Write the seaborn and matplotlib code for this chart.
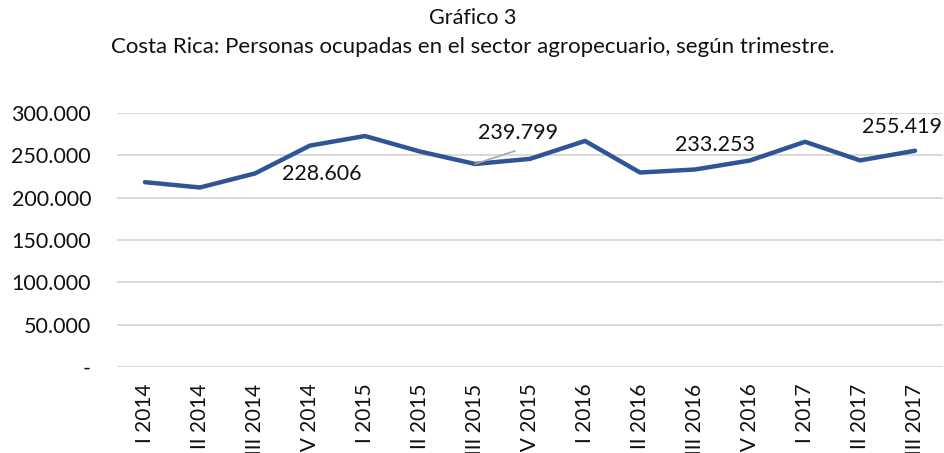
import pandas as pd
import matplotlib.pyplot as plt
import matplotlib.ticker as mtick
import seaborn as sns

# ── Data ────────────────────────────────────────────────────────────────────
quarters = ["I 2014", "II 2014", "III 2014", "IV 2014",
            "I 2015", "II 2015", "III 2015", "IV 2015",
            "I 2016", "II 2016", "III 2016", "IV 2016",
            "I 2017", "II 2017", "III 2017"]
ocupados = [218300, 212000, 228606, 261500,
            272800, 254500, 239799, 245800,
            267000, 229700, 233253, 243900,
            266000, 244000, 255419]
# labelled points: index -> (dx, dy) offset in pixels
labelled = {2: (67, -1), 6: (43, 31), 10: (20, 25), 14: (-13, 24)}

FONT = "Lato"
BLUE = "#2F5597"

sns.set_theme(style="white")
plt.rcParams["font.family"] = [FONT, "DejaVu Sans"]

df = pd.DataFrame({"trimestre": quarters, "ocupados": ocupados})

fig = plt.figure(figsize=(9.45, 4.53), dpi=100)
ax = fig.add_axes([0.1243, 0.1898, 0.8731, 0.5608])

sns.lineplot(data=df, x="trimestre", y="ocupados", ax=ax,
             color=BLUE, lw=3.2, sort=False)

ax.set_xlim(-0.5, len(quarters) - 0.5)
ax.set_ylim(0, 300000)
ax.set_yticks(range(0, 300001, 50000))
ax.yaxis.set_major_formatter(mtick.FuncFormatter(
    lambda v, _: "-" if v == 0 else f"{v:,.0f}".replace(",", ".")))
ax.grid(axis="y", color="#D9D9D9", lw=1.4)
ax.set_axisbelow(True)
for s in ax.spines.values():
    s.set_visible(False)
ax.set_xlabel("")
ax.set_ylabel("")
ax.tick_params(axis="y", labelsize=15.5, pad=19, length=0, labelcolor="#111111")
ax.tick_params(axis="x", labelsize=15, pad=12, length=0, labelcolor="#111111",
               rotation=90)

# data labels
for i, (dx, dy) in labelled.items():
    v = ocupados[i]
    ax.annotate(f"{v:,.0f}".replace(",", "."), xy=(i, v),
                xytext=(dx, dy), textcoords="offset pixels",
                ha="center", va="center", fontsize=15.5, color="#111111")
# leader line for III 2015
ax.annotate("", xy=(6, ocupados[6]), xytext=(40, 13), textcoords="offset pixels",
            arrowprops=dict(arrowstyle="-", color="#A6A6A6", lw=1.2,
                            shrinkA=0, shrinkB=0))

fig.text(0.5, 1 - 18 / 453, "Gráfico 3", ha="center", va="center",
         fontsize=15.5, color="#111111")
fig.text(0.5, 1 - 47 / 453,
         "Costa Rica: Personas ocupadas en el sector agropecuario, según trimestre.",
         ha="center", va="center", fontsize=16, color="#111111")

fig.savefig("out.png", dpi=100)
